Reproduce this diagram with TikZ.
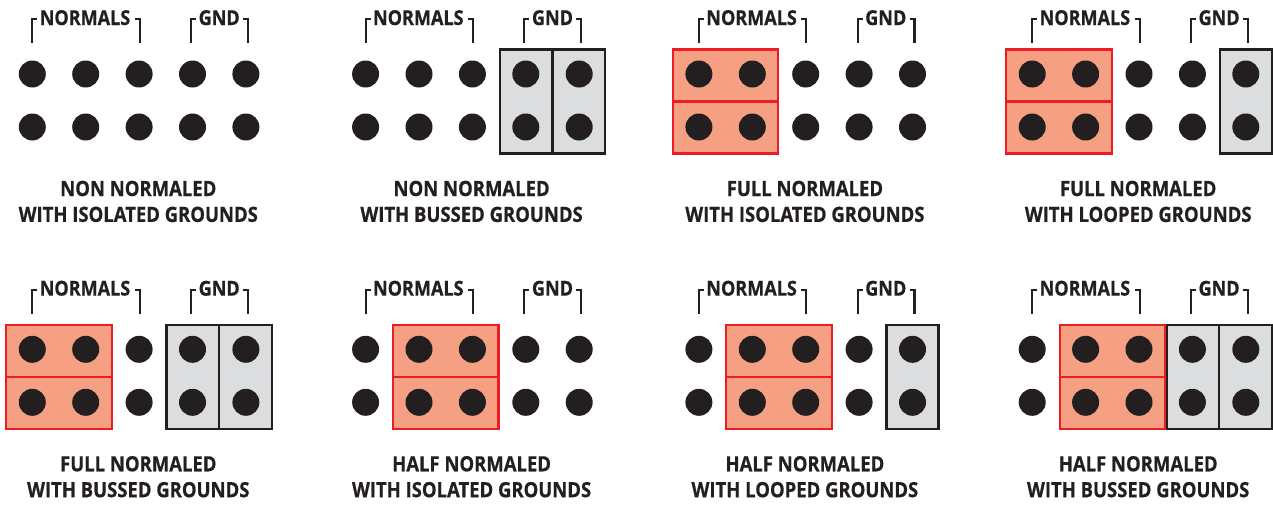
\documentclass[tikz,border=0pt]{standalone}
\usepackage{fontspec}
\newfontfamily\capfont[FakeStretch=0.88,FakeBold=0.6]{Open Sans}
\definecolor{ink}{RGB}{35,31,32}
\definecolor{redline}{RGB}{237,28,36}
\definecolor{salmon}{RGB}{245,160,130}
\definecolor{greyfill}{RGB}{220,221,223}
\tikzset{
  dot/.style={circle,fill=ink,draw=none,minimum size=27pt,inner sep=0pt},
  redbox/.style={fill=salmon,draw=redline,line width=2.2pt},
  redrule/.style={draw=redline,line width=2.2pt},
  greybox/.style={fill=greyfill,draw=ink,line width=2.2pt},
  greyrule/.style={draw=ink,line width=2.2pt},
  brk/.style={draw=ink,line width=2.2pt},
  lbl/.style={font=\capfont\bfseries\fontsize{20.5}{22}\selectfont,text=ink,inner sep=0pt,anchor=base},
  capt/.style={font=\capfont\bfseries\fontsize{21}{25}\selectfont,text=ink,inner sep=0pt,anchor=base},
}
\newcommand\redcols[2]{%
  \pgfmathsetmacro\L{(#1-1)*53.4-26}\pgfmathsetmacro\R{(#2-1)*53.4+26}%
  \draw[redbox] (\L,-24.5) rectangle (\R,79.5);
  \draw[redrule] (\L,27.5) -- (\R,27.5);}
\newcommand\greycols[2]{%
  \pgfmathsetmacro\L{(#1-1)*53.4-26}\pgfmathsetmacro\R{(#2-1)*53.4+26}%
  \draw[greybox] (\L,-24.5) rectangle (\R,79.5);
  \ifnum#1<#2\relax\pgfmathsetmacro\D{(#1-1)*53.4+26.7}\draw[greyrule] (\D,-24.5) -- (\D,79.5);\fi}
% #1 name, #2 x, #3 y, #4 bracket offset, #5 boxes, #6 line 1, #7 line 2
\newcommand\panel[7]{%
  \begin{scope}[shift={(#2,#3)}]
    #5
    \foreach \c in {1,...,5}{\foreach \r in {1,2}{%
      \node[dot] (#1-\r-\c) at ({(\c-1)*53.4},{(\r-1)*53}) {};}}
    \node[lbl] (#1-nl) at (52.7,{-49+#4}) {NORMALS};
    \node[lbl] (#1-gl) at (186.9,{-49+#4}) {GND};
    \draw[brk] (0,{-31+#4}) -- (0,{-55+#4}) -- (5,{-55+#4});
    \draw[brk] (107.4,{-31+#4}) -- (107.4,{-55+#4}) -- (102.4,{-55+#4});
    \draw[brk] (158.7,{-31+#4}) -- (158.7,{-55+#4}) -- (163.7,{-55+#4});
    \draw[brk] (215.6,{-31+#4}) -- (215.6,{-55+#4}) -- (210.6,{-55+#4});
    \node[capt] (#1-c1) at (106,122) {#6};
    \node[capt] (#1-c2) at (106,147.9) {#7};
  \end{scope}}
\begin{document}
\begin{tikzpicture}[x=1pt,y=-1pt]
\useasboundingbox (0,0) rectangle (1273,504);
\panel{a}{32.3}{74}{0}{}{NON NORMALED}{WITH ISOLATED GROUNDS}
\panel{b}{365.6}{74}{0}{\greycols{4}{5}}{NON NORMALED}{WITH BUSSED GROUNDS}
\panel{c}{698.9}{74}{0}{\redcols{1}{2}}{FULL NORMALED}{WITH ISOLATED GROUNDS}
\panel{d}{1032.2}{74}{0}{\redcols{1}{2}\greycols{5}{5}}{FULL NORMALED}{WITH LOOPED GROUNDS}
\panel{e}{32.3}{349.3}{-4.7}{\redcols{1}{2}\greycols{4}{5}}{FULL NORMALED}{WITH BUSSED GROUNDS}
\panel{f}{365.6}{349.3}{-4.7}{\redcols{2}{3}}{HALF NORMALED}{WITH ISOLATED GROUNDS}
\panel{g}{698.9}{349.3}{-4.7}{\redcols{2}{3}\greycols{5}{5}}{HALF NORMALED}{WITH LOOPED GROUNDS}
\panel{h}{1032.2}{349.3}{-4.7}{\greycols{4}{5}\redcols{2}{3}}{HALF NORMALED}{WITH BUSSED GROUNDS}
\end{tikzpicture}
\end{document}
